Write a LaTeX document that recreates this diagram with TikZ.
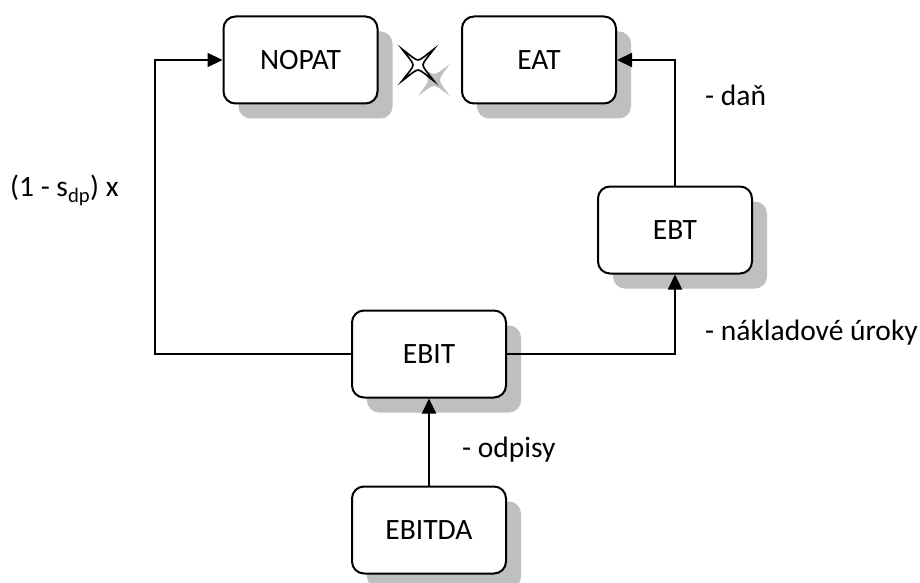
\documentclass[tikz,border=0pt]{standalone}
\usepackage{fontspec}
\setmainfont{Carlito}
\usetikzlibrary{arrows.meta,shadows}
\begin{document}
\begin{tikzpicture}[x=1pt,y=-1pt,
  box/.style={draw=black,line width=2pt,rounded corners=12pt,fill=white,
    minimum width=154pt,minimum height=87pt,inner sep=0pt,font=\fontsize{29.5}{34}\selectfont,
    drop shadow={shadow xshift=15pt,shadow yshift=-15pt,fill=black!25,opacity=1}},
  conn/.style={line width=2.2pt,-{Triangle[length=15pt,width=14pt]}},
  lbl/.style={anchor=west,inner sep=0pt,font=\fontsize{29.5}{34}\selectfont},
  starpath/.style={}]
\useasboundingbox (0,0) rectangle (920,583);
\node[box] (nopat) at (300.5,60) {NOPAT};
\node[box] (eat) at (539,60) {EAT};
\node[box] (ebt) at (675,230) {EBT};
\node[box] (ebit) at (429,354) {EBIT};
\node[box] (ebitda) at (429,530) {EBITDA};
% star
\coordinate (star) at (418,65);
\coordinate (starsh) at (434,80);
\fill[black!25] (starsh) ++(-16,-16) .. controls ++(8,6) and ++(-3,0) .. ++(16,10) .. controls ++(3,0) and ++(-8,6) .. ++(16,-10)
  .. controls ++(-6,8) and ++(0,-3) .. ++(-10,16) .. controls ++(0,3) and ++(-6,-8) .. ++(10,16)
  .. controls ++(-8,-6) and ++(3,0) .. ++(-16,-10) .. controls ++(-3,0) and ++(8,-6) .. ++(-16,10)
  .. controls ++(6,-8) and ++(0,3) .. ++(10,-16) .. controls ++(0,-3) and ++(6,8) .. ++(-10,-16) -- cycle;
\draw[fill=white,line width=1.6pt,line join=miter] (star) ++(-16,-16) .. controls ++(8,6) and ++(-3,0) .. ++(16,11) .. controls ++(3,0) and ++(-8,6) .. ++(16,-11)
  .. controls ++(-6,8) and ++(0,-3) .. ++(-11,16) .. controls ++(0,3) and ++(-6,-8) .. ++(11,16)
  .. controls ++(-8,-6) and ++(3,0) .. ++(-16,-11) .. controls ++(-3,0) and ++(8,-6) .. ++(-16,11)
  .. controls ++(6,-8) and ++(0,3) .. ++(11,-16) .. controls ++(0,-3) and ++(6,8) .. ++(-11,-16) -- cycle;
% connectors
\coordinate (lt) at (155,354);
\draw[conn] (ebit.west) -- (lt) |- (nopat.west);
\draw[conn] (ebit.east) -| (ebt.south);
\draw[conn] (ebt.north) |- (eat.east);
\draw[conn] (ebitda.north) -- (ebit.south);
% labels
\node[lbl] (l1) at (10,190) {(1 - s\textsubscript{dp}) x};
\node[lbl] (l2) at (705,95) {- daň};
\node[lbl] (l3) at (705,333) {- nákladové úroky};
\node[lbl] (l4) at (462,450) {- odpisy};
\end{tikzpicture}
\end{document}
